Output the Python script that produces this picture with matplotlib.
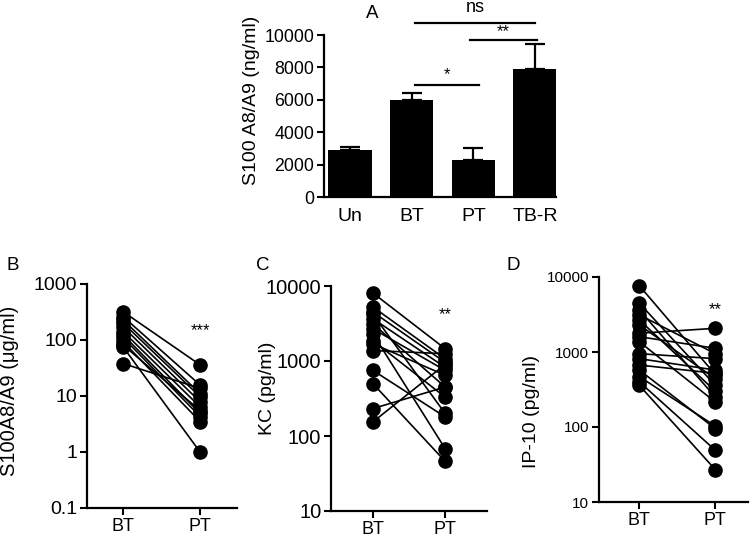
import matplotlib
matplotlib.use("Agg")
import matplotlib.pyplot as plt
import numpy as np

plt.rcParams['font.family'] = ['Liberation Sans', 'DejaVu Sans']

# Panel A data
a_cats = ["Un", "BT", "PT", "TB-R"]
a_means = [2890, 5980, 2310, 7880]
a_errs = [200, 450, 720, 1540]

# Panel B: S100A8/A9 (ug/ml), paired BT -> PT
b_bt = [320, 261, 228, 200, 170, 141, 123, 110, 93, 81, 75, 38]
b_pt = [36, 15.7, 11, 9.7, 7.9, 6.4, 4.9, 4.3, 3.5, 5.5, 1, 13.7]

# Panel C: KC (pg/ml)
c_bt = [8070, 5250, 4500, 4200, 3670, 3140, 2690, 2300, 1870, 1700, 1380, 750, 500, 232, 154]
c_pt = [1460, 1070, 960, 200, 825, 450, 750, 68, 330, 645, 1250, 180, 46, 450, 900]

# Panel D: IP-10 (pg/ml)
d_bt = [7660, 4480, 3650, 3130, 2680, 2300, 1780, 1600, 1370, 950, 815, 670, 575, 470, 400, 360]
d_pt = [500, 360, 250, 950, 300, 440, 2070, 1120, 215, 815, 575, 520, 95, 103, 49, 27]

pair_labels = ["BT", "PT"]

W, H = 754, 537
fig = plt.figure(figsize=(W / 100, H / 100), dpi=100)

def px_axes(left, right, top, bottom):
    return fig.add_axes([left / W, 1 - bottom / H, (right - left) / W, (bottom - top) / H])

def ylab(xc, yc, text, size):
    fig.text(xc / W, 1 - yc / H, text, rotation=90, ha="center", va="center", fontsize=size)

def style(ax):
    for s in ["top", "right"]:
        ax.spines[s].set_visible(False)
    for s in ["left", "bottom"]:
        ax.spines[s].set_linewidth(1.6)
    ax.tick_params(direction="out", length=5, width=1.5, pad=2)
    ax.tick_params(which="minor", length=0)

# ---- Panel A
axA = px_axes(324, 556, 35, 197)
x = np.arange(len(a_cats))
axA.bar(x, a_means, width=0.7, color="black", zorder=2)
axA.errorbar(x, a_means, yerr=[np.zeros(len(x)), a_errs], fmt="none", ecolor="black",
             elinewidth=1.6, capsize=7, capthick=1.6, clip_on=False, zorder=1)
axA.set_xlim(-0.42, 3.34)
axA.set_ylim(0, 10000)
axA.set_yticks([0, 2000, 4000, 6000, 8000, 10000])
axA.set_xticks(x)
axA.set_xticklabels(a_cats, fontsize=14)
axA.tick_params(axis="y", labelsize=12.8)
style(axA)
axA.tick_params(axis="x", length=0, pad=8)
ylab(252, 100, "S100 A8/A9 (ng/ml)", 14)
# significance bars
sig = [(1.05, 2.1, 6930, "*", 7550), (1.05, 3.0, 10760, "ns", 11700), (1.95, 3.03, 9710, "**", 10200)]
for x0, x1, yl, txt, yt in sig:
    axA.plot([x0, x1], [yl, yl], color="black", lw=1.6, clip_on=False)
    axA.text((x0 + x1) / 2, yt, txt, ha="center", va="center", fontsize=13 if txt == "ns" else 12)
fig.text(372 / W, 1 - 13 / H, "A", ha="center", va="center", fontsize=13.5)

def paired(ax, bt, pt, ylim, yticks, xlim, ticksize, star, star_y):
    for b, p in zip(bt, pt):
        ax.plot([0, 1], [b, p], color="black", lw=1.2, marker="o", markersize=9.5,
                markerfacecolor="black", markeredgecolor="black", clip_on=False, zorder=3)
    ax.set_yscale("log")
    ax.set_ylim(*ylim)
    ax.set_yticks(yticks)
    ax.set_yticklabels([("%g" % t) for t in yticks])
    ax.set_xlim(*xlim)
    ax.set_xticks([0, 1])
    ax.set_xticklabels(pair_labels, fontsize=13)
    ax.tick_params(axis="y", labelsize=ticksize)
    style(ax)
    ax.text(1, star_y, star, ha="center", va="center", fontsize=12)

axB = px_axes(87, 237, 284, 508)
paired(axB, b_bt, b_pt, (0.1, 1000), [0.1, 1, 10, 100, 1000],
       (-0.47, 1.48), 14, "***", 150)
ylab(10, 391, "S100A8/A9 (\u03bcg/ml)", 14.5)
fig.text(13 / W, 1 - 265 / H, "B", ha="center", va="center", fontsize=13.5)

axC = px_axes(331, 487, 286, 511)
paired(axC, c_bt, c_pt, (10, 10000), [10, 100, 1000, 10000],
       (-0.58, 1.58), 14.5, "**", 4200)
ylab(267, 388, "KC (pg/ml)", 14)
fig.text(263 / W, 1 - 265 / H, "C", ha="center", va="center", fontsize=13.5)

axD = px_axes(599, 748, 277, 502)
paired(axD, d_bt, d_pt, (10, 10000), [10, 100, 1000, 10000],
       (-0.53, 1.43), 11, "**", 3700)
ylab(532, 412, "IP-10 (pg/ml)", 14)
fig.text(513 / W, 1 - 265 / H, "D", ha="center", va="center", fontsize=13.5)

fig.savefig("out.png", dpi=100, facecolor="white")
